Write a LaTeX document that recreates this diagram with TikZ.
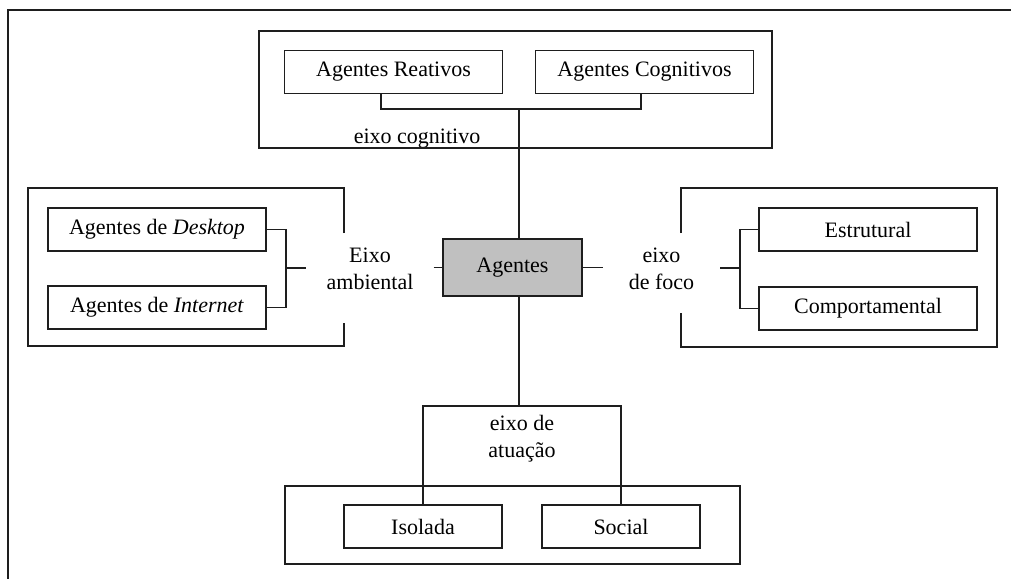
\documentclass[tikz,border=0pt]{standalone}
\usepackage{fontspec}
\setmainfont{Liberation Serif}
\usetikzlibrary{positioning}

\definecolor{hubgray}{RGB}{192,192,192}
\definecolor{inkline}{RGB}{30,30,30}

\tikzset{
  leaf/.style  = {draw=inkline, line width=1.8pt, minimum width=218pt, minimum height=43pt, inner sep=0pt},
  hub/.style   = {draw=inkline, line width=1.8pt, fill=hubgray, minimum width=139pt, minimum height=57pt, inner sep=0pt},
  axis/.style  = {align=center, inner ysep=2pt},
  wire/.style  = {draw=inkline, line width=1.8pt},
  group/.style = {draw=inkline, line width=1.8pt}
}

\begin{document}
\begin{tikzpicture} [x=1pt, y=-1pt, on grid, every node/.style={font=\fontsize{22}{27}\selectfont}]

    \useasboundingbox (0,0) rectangle (1011,579);
    \draw [group] (1011,10) -- (8,10) -- (8,579);

    \node (agentes) [hub] at (512.5,267.5) {Agentes};

    \node (reativos) [leaf] at (393.5,72) {Agentes Reativos};
    \node (cognitivos) [leaf, right = 251pt of reativos] {Agentes Cognitivos};
    \node (ecog) at (417,139) {eixo cognitivo};
    \coordinate (topjoin) at (519,109);

    \node (desktop) [leaf] at (157,229.5) {Agentes de \textit{Desktop}};
    \node (internet) [leaf, below = 78pt of desktop] {Agentes de \textit{Internet}};
    \node (eamb) [axis, inner xsep=20pt] at (370,269) {Eixo\\ambiental};
    \coordinate (leftjoin) at (286,268);

    \node (estrutural) [leaf] at (868,229.5) {Estrutural};
    \node (comport) [leaf, below = 79pt of estrutural] {Comportamental};
    \node (efoco) [axis, inner xsep=26pt] at (661.5,269) {eixo\\de foco};
    \coordinate (rightjoin) at (740,268);

    \node (isolada) [leaf, minimum width=158pt] at (423,526.5) {Isolada};
    \node (social) [leaf, minimum width=158pt, right = 198pt of isolada] {Social};
    \node (eatu) [axis] at (522,439) {eixo de\\atuação};
    \coordinate (botjoin) at (519,406);

    \draw [group] (259,31) rectangle (772,148);
    \draw [group] (344,233) |- (28,188) |- (344,346) -- (344,323);
    \draw [group] (681,233) |- (997,188) |- (681,347) -- (681,313);
    \draw [group] (285,486) rectangle (740,564);

    \path [wire] ([xshift=-12.5pt]reativos.south) |- (topjoin) -| ([xshift=-3.5pt]cognitivos.south);
    \path [wire] (topjoin) -- (agentes.north -| topjoin);
    \path [wire] (desktop.east) -| (leftjoin) |- (internet.east);
    \path [wire] (leftjoin) -- (eamb.west |- leftjoin);
    \path [wire] (eamb.east |- agentes.west) -- (agentes.west);
    \path [wire] (estrutural.west) -| (rightjoin) |- (comport.west);
    \path [wire] (efoco.east |- rightjoin) -- (rightjoin);
    \path [wire] (agentes.east) -- (efoco.west |- agentes.east);
    \path [wire] (agentes.south -| botjoin) -- (botjoin);
    \path [wire] (isolada.north) |- (botjoin) -| (social.north);

\end{tikzpicture}
\end{document}
